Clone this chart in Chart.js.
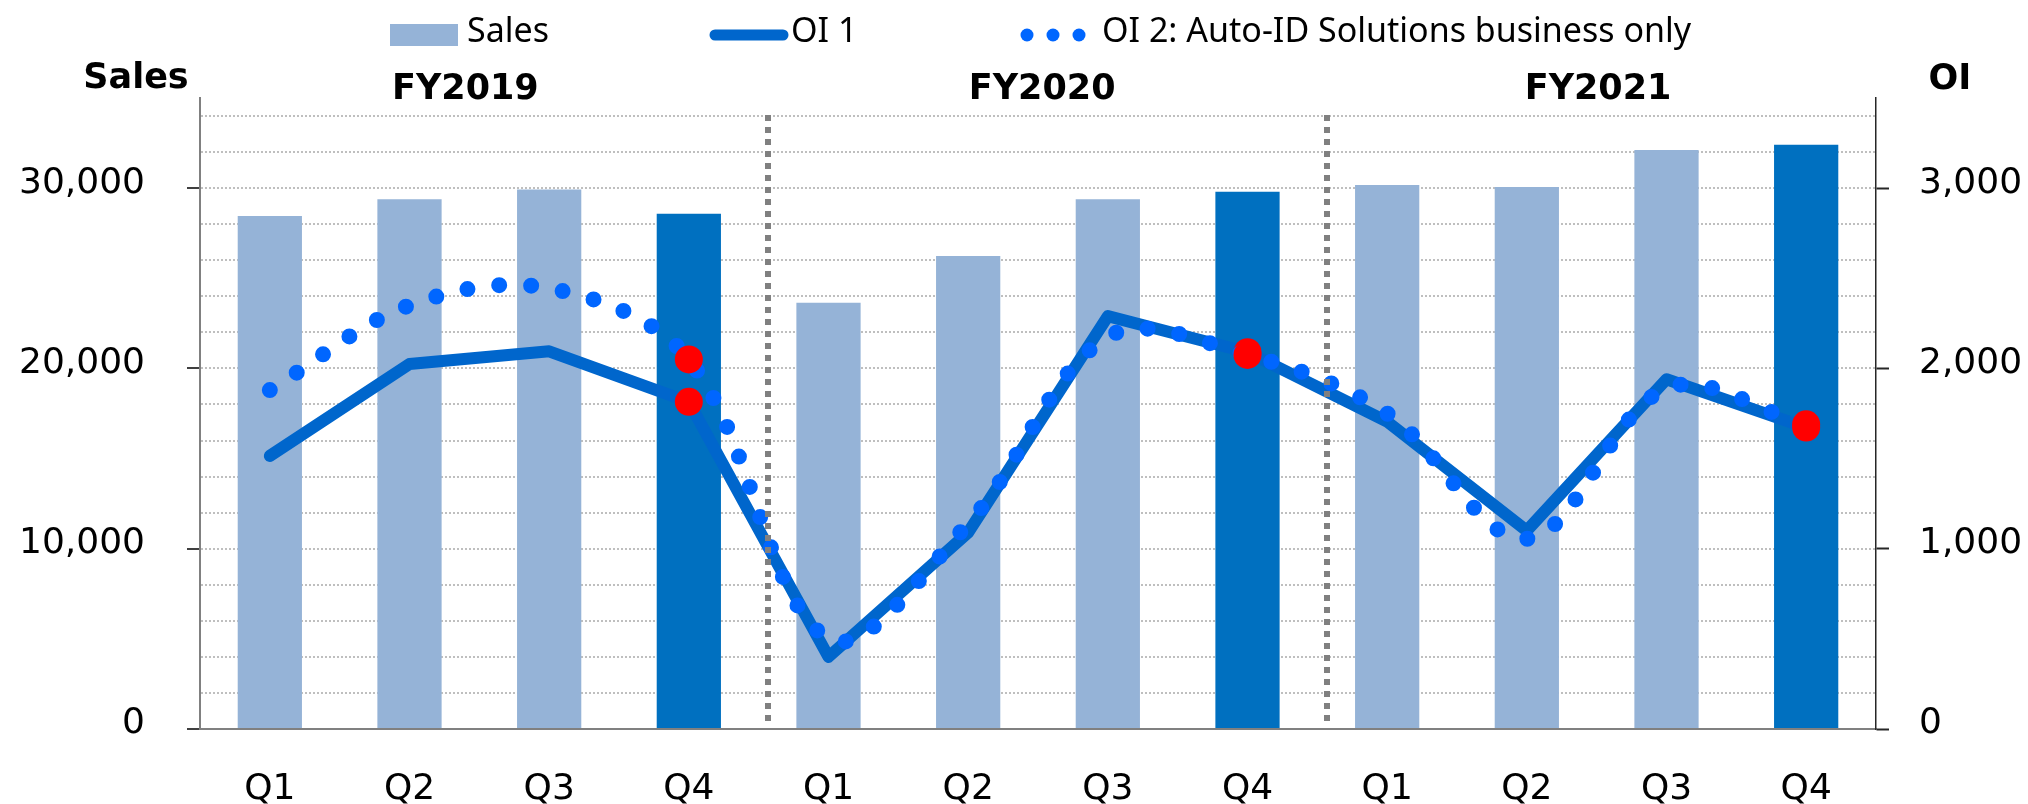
<!DOCTYPE html>
<html>
<head>
<meta charset="utf-8">
<title>Sales and OI by quarter</title>
<script src="https://cdn.jsdelivr.net/npm/chart.js@4.4.1/dist/chart.umd.min.js"></script>
<style>
  html, body { margin: 0; padding: 0; background: #fff; }
  canvas { display: block; }
</style>
</head>
<body>
<canvas id="salesChart" width="2028" height="804"></canvas>
<script>
// Quarterly sales (left axis) and operating income (right axis), FY2019-FY2021
const quarters = ['Q1', 'Q2', 'Q3', 'Q4', 'Q1', 'Q2', 'Q3', 'Q4', 'Q1', 'Q2', 'Q3', 'Q4'];
const fiscalYears = ['FY2019', 'FY2020', 'FY2021'];
const sales = [28450, 29390, 29920, 28575, 23640, 26230, 29390, 29795, 30180, 30070, 32120, 32400];
const oi1 = [1515, 2025, 2095, 1815, 400, 1090, 2290, 2090, 1705, 1100, 1940, 1672];
const oi2 = [1880, 2350, 2445, 2050, 500, 1140, 2175, 2075, 1750, 1055, 1890, 1690];
const salesTicks = [0, 10000, 20000, 30000];
const oiTicks = [0, 1000, 2000, 3000];
const seriesNames = ['Sales', 'OI 1', 'OI 2: Auto-ID Solutions business only'];

const LIGHT_BAR = '#95B3D7';
const DARK_BAR = '#0070C0';
const OI1_COLOR = '#0066CC';
const OI2_COLOR = '#0066FF';
const HIGHLIGHT = '#FF0000';
const TICK_FONT = 'DejaVu Sans';
const LEGEND_FONT = 'Noto Sans';

const isQ4 = i => i % 4 === 3;
const fmt = v => v.toLocaleString('en-US');
const clear = 'rgba(0,0,0,0)';

// minor gridlines every 2,000 below the 35,000 axis top
function salesGridTicks(scale) {
    const ticks = [];
    for (let v = 0; v < scale.max; v += 2000) ticks.push({ value: v });
    scale.ticks = ticks;
}

// separators, year headings, axis titles and the legend
const decorPlugin = {
    id: 'decorPlugin',
    afterDatasetsDraw(chart) {
        const { ctx, chartArea, scales: { x } } = chart;
        const step = x.getPixelForValue(1) - x.getPixelForValue(0);

        ctx.save();
        ctx.strokeStyle = '#808080';
        ctx.lineWidth = 6;
        ctx.setLineDash([6, 6]);
        [3.5, 7.5].forEach(b => {
            const px = Math.round(x.getPixelForValue(b) + step * 0.07);
            ctx.beginPath();
            ctx.moveTo(px, chartArea.top + 17);
            ctx.lineTo(px, chartArea.bottom - 4);
            ctx.stroke();
        });
        ctx.restore();
    },
    afterDraw(chart) {
        const { ctx, scales: { x } } = chart;

        ctx.save();
        ctx.fillStyle = '#000';
        ctx.textBaseline = 'alphabetic';
        ctx.font = 'bold 35px "' + TICK_FONT + '"';
        ctx.textAlign = 'center';

        // year headings over each group of quarters
        const yearPos = [1.4, 5.53, 9.51];
        fiscalYears.forEach((fy, i) => {
            ctx.fillText(fy, x.getPixelForValue(yearPos[i]), 99);
        });

        // axis titles
        ctx.fillText('Sales', 136, 88);
        ctx.fillText('OI', 1950, 89);

        // legend
        ctx.font = '34px "' + LEGEND_FONT + '"';
        ctx.textAlign = 'left';

        ctx.fillStyle = LIGHT_BAR;
        ctx.fillRect(390, 24, 68, 22);
        ctx.fillStyle = '#000';
        ctx.fillText(seriesNames[0], 467, 42);

        ctx.strokeStyle = OI1_COLOR;
        ctx.lineWidth = 11;
        ctx.lineCap = 'round';
        ctx.beginPath();
        ctx.moveTo(715, 35);
        ctx.lineTo(783, 35);
        ctx.stroke();
        ctx.fillText(seriesNames[1], 791, 42);

        ctx.fillStyle = OI2_COLOR;
        [1027, 1053, 1079].forEach(cx => {
            ctx.beginPath();
            ctx.arc(cx, 35, 6.5, 0, Math.PI * 2);
            ctx.fill();
        });
        ctx.fillStyle = '#000';
        ctx.fillText(seriesNames[2], 1102, 42);

        ctx.restore();
    }
};

const ctx = document.getElementById('salesChart').getContext('2d');

const salesChart = new Chart(ctx, {
    type: 'bar',
    data: {
        labels: quarters,
        datasets: [
            {
                type: 'line',
                label: seriesNames[2],
                data: oi2,
                yAxisID: 'y1',
                order: 1,
                borderColor: OI2_COLOR,
                borderWidth: 16,
                borderDash: [0, 32],
                borderCapStyle: 'round',
                tension: 0.35,
                fill: false,
                pointRadius: c => isQ4(c.dataIndex) ? 14 : 0,
                pointHoverRadius: c => isQ4(c.dataIndex) ? 14 : 0,
                pointBackgroundColor: HIGHLIGHT,
                pointBorderWidth: 0
            },
            {
                type: 'line',
                label: seriesNames[1],
                data: oi1,
                yAxisID: 'y1',
                order: 2,
                borderColor: OI1_COLOR,
                borderWidth: 12,
                borderCapStyle: 'round',
                borderJoinStyle: 'round',
                tension: 0,
                fill: false,
                pointRadius: c => isQ4(c.dataIndex) ? 14 : 0,
                pointHoverRadius: c => isQ4(c.dataIndex) ? 14 : 0,
                pointBackgroundColor: HIGHLIGHT,
                pointBorderWidth: 0
            },
            {
                label: seriesNames[0],
                data: sales,
                yAxisID: 'y',
                order: 3,
                backgroundColor: sales.map((_, i) => isQ4(i) ? DARK_BAR : LIGHT_BAR),
                borderWidth: 0,
                barPercentage: 0.46,
                categoryPercentage: 1.0
            }
        ]
    },
    options: {
        responsive: false,
        devicePixelRatio: 1,
        animation: false,
        layout: { padding: { top: 98, left: 0, right: 0, bottom: 0 } },
        plugins: {
            legend: { display: false },
            tooltip: { enabled: false }
        },
        scales: {
            x: {
                offset: true,
                grid: { display: false },
                border: { color: '#808080', width: 2 },
                ticks: {
                    color: '#000',
                    font: { family: TICK_FONT, size: 36 },
                    padding: 31,
                    maxRotation: 0,
                    autoSkip: false
                },
                afterFit: s => { s.height = 75; }
            },
            y: {
                position: 'left',
                min: 0,
                max: 35000,
                afterBuildTicks: salesGridTicks,
                ticks: {
                    autoSkip: false,
                    padding: 42,
                    labelOffset: -5,
                    color: '#000',
                    font: { family: TICK_FONT, size: 36 },
                    callback: v => salesTicks.includes(v) ? fmt(v) : ''
                },
                grid: {
                    color: c => (!c.tick || c.tick.value === 0) ? clear : '#BFBFBF',
                    lineWidth: 2,
                    tickLength: 13,
                    tickWidth: 2,
                    tickColor: c => (c.tick && salesTicks.includes(c.tick.value)) ? '#404040' : clear
                },
                border: { color: '#808080', width: 2, dash: [2, 2] },
                afterFit: s => { s.width = 200; }
            },
            y1: {
                position: 'right',
                min: 0,
                max: 3500,
                afterBuildTicks: s => { s.ticks = oiTicks.map(v => ({ value: v })); },
                ticks: {
                    autoSkip: false,
                    padding: 30,
                    labelOffset: -5,
                    color: '#000',
                    font: { family: TICK_FONT, size: 36 },
                    callback: v => fmt(v)
                },
                grid: {
                    drawOnChartArea: false,
                    tickLength: 13,
                    tickWidth: 2,
                    tickColor: '#262626'
                },
                border: { color: '#262626', width: 1.5 },
                afterFit: s => { s.width = 152; }
            }
        }
    },
    plugins: [decorPlugin]
});
</script>
</body>
</html>
